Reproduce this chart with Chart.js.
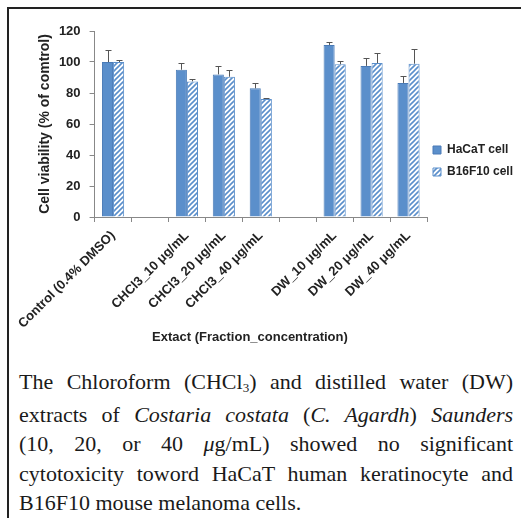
<!DOCTYPE html>
<html>
<head>
<meta charset="utf-8">
<script src="https://cdn.jsdelivr.net/npm/chart.js@4.4.0/dist/chart.umd.min.js"></script>
<style>
html, body { margin: 0; padding: 0; background: #fff; }
body { width: 521px; height: 518px; position: relative; overflow: hidden; }
#frame { position: absolute; left: 7px; top: 7px; width: 540px; height: 540px; border-top: 2px solid #222; border-left: 2px solid #222; }
#wrap { position: absolute; left: 10px; top: 10px; width: 511px; height: 340px; }
#caption { position: absolute; left: 19px; top: 367px; width: 494px; font-family: "Liberation Serif", "Times New Roman", serif; font-size: 22px; line-height: 29.5px; color: #1a1a1a; }
#caption .j { text-align: justify; text-align-last: justify; white-space: nowrap; }
#caption .s { font-size: 13px; position: relative; top: 3px; }
</style>
</head>
<body>
<div id="frame"></div>
<div id="wrap"><canvas id="myChart"></canvas></div>
<div id="caption">
  <div class="j">The Chloroform (CHCl<span class="s">3</span>) and distilled water (DW)</div>
  <div class="j">extracts of <i>Costaria costata</i> (<i>C. Agardh</i>) <i>Saunders</i></div>
  <div class="j">(10, 20, or 40 <i>μ</i>g/mL) showed no significant</div>
  <div class="j">cytotoxicity toword HaCaT human keratinocyte and</div>
  <div>B16F10 mouse melanoma cells.</div>
</div>
<script>
const categories = ['Control (0.4% DMSO)', '', 'CHCl3_10 μg/mL', 'CHCl3_20 μg/mL', 'CHCl3_40 μg/mL', '', 'DW_10 μg/mL', 'DW_20 μg/mL', 'DW_40 μg/mL'];
const hacatValues = [100, null, 95, 92, 83, null, 111, 97.5, 86.5];
const hacatErrors = [8, null, 4.5, 5.4, 3.2, null, 2.1, 5.3, 4.7];
const b16f10Values = [100, null, 87.5, 90.5, 76.2, null, 98.5, 99.3, 98.9];
const b16f10Errors = [1.5, null, 1.7, 4.1, 0.5, null, 2.3, 6.6, 9.3];
const yMin = 0;
const yMax = 120;
const yStep = 20;

const blue = '#5b8fcb';

function stripes() {
    const c = document.createElement('canvas');
    c.width = 5;
    c.height = 5;
    const g = c.getContext('2d');
    g.fillStyle = '#fff';
    g.fillRect(0, 0, 5, 5);
    g.strokeStyle = blue;
    g.lineWidth = 1.6;
    g.beginPath();
    g.moveTo(0, 5); g.lineTo(5, 0);
    g.moveTo(-1, 1); g.lineTo(1, -1);
    g.moveTo(4, 6); g.lineTo(6, 4);
    g.stroke();
    return g.createPattern(c, 'repeat');
}

// error bars, upward only, from the bar top
const errorBars = {
    id: 'errorBars',
    afterDatasetsDraw(chart) {
        const ctx = chart.ctx;
        const y = chart.scales.y;
        chart.data.datasets.forEach((ds, di) => {
            chart.getDatasetMeta(di).data.forEach((bar, i) => {
                const v = ds.data[i];
                const e = ds.errors[i];
                if (v == null || e == null) return;
                const top = Math.round(y.getPixelForValue(v + e)) + 0.5;
                const x = Math.round(bar.x) + 0.5;
                ctx.save();
                ctx.strokeStyle = '#555';
                ctx.lineWidth = 1;
                ctx.beginPath();
                ctx.moveTo(x, bar.y);
                ctx.lineTo(x, top);
                ctx.moveTo(x - 3, top);
                ctx.lineTo(x + 3, top);
                ctx.stroke();
                ctx.restore();
            });
        });
    }
};

// move the legend down next to the middle of the bars, a bit closer to them
const legendShift = {
    id: 'legendShift',
    afterLayout(chart) {
        const lg = chart.legend;
        lg.top += 37;
        lg.bottom += 37;
        lg.left -= 4;
        lg.right -= 4;
    }
};

const data = {
    labels: categories,
    datasets: [{
        label: 'HaCaT cell',
        data: hacatValues,
        errors: hacatErrors,
        backgroundColor: blue,
        borderColor: '#4a7bb7',
        borderWidth: 1
    }, {
        label: 'B16F10 cell',
        data: b16f10Values,
        errors: b16f10Errors,
        backgroundColor: stripes(),
        borderColor: blue,
        borderWidth: 1
    }]
};

const config = {
    type: 'bar',
    data: data,
    plugins: [errorBars, legendShift],
    options: {
        responsive: true,
        maintainAspectRatio: false,
        animation: false,
        categoryPercentage: 0.6,
        barPercentage: 1.0,
        layout: { padding: { top: 21, right: 0, bottom: 0, left: 0 } },
        plugins: {
            tooltip: { enabled: false },
            legend: {
                position: 'right',
                fullSize: false,
                maxWidth: 94,
                labels: {
                    boxWidth: 8,
                    boxHeight: 8,
                    padding: 10,
                    color: '#222',
                    font: { family: 'Liberation Sans', size: 12, weight: 'bold' }
                }
            }
        },
        scales: {
            x: {
                afterFit: (s) => { s.height = 133; },
                grid: { drawOnChartArea: false, tickLength: 5, color: '#888', offset: true },
                border: { color: '#888' },
                ticks: {
                    autoSkip: false,
                    minRotation: 45,
                    maxRotation: 45,
                    padding: 6,
                    color: '#222',
                    font: { family: 'Liberation Sans', size: 13, weight: 'bold' }
                },
                title: {
                    display: true,
                    text: 'Extact (Fraction_concentration)      ',
                    color: '#222',
                    padding: { top: 0, bottom: 5 },
                    font: { family: 'Liberation Sans', size: 13, weight: 'bold' }
                }
            },
            y: {
                min: yMin,
                max: yMax,
                afterFit: (s) => { s.width = 83; },
                grid: { drawOnChartArea: false, tickLength: 5, color: '#888' },
                border: { color: '#888' },
                ticks: {
                    stepSize: yStep,
                    padding: 9,
                    color: '#222',
                    font: { family: 'Liberation Sans', size: 13, weight: 'bold' }
                },
                title: {
                    display: true,
                    text: 'Cell viability (% of comtrol)',
                    color: '#222',
                    padding: { top: 25, bottom: 0 },
                    font: { family: 'Liberation Sans', size: 14, weight: 'bold' }
                }
            }
        }
    }
};

const myChart = new Chart(
    document.getElementById('myChart'),
    config
);
</script>
</body>
</html>
